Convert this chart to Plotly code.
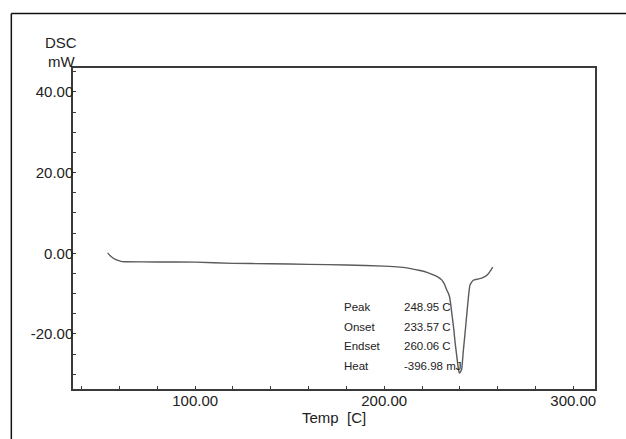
import plotly.graph_objects as go

# ---- data ----
temp_c = [53.7, 55.5, 57.8, 60.0, 61.3, 63.0, 80.0, 100.0, 120.0, 140.0, 160.0, 180.0,
          200.0, 208.4, 214.0, 219.0, 223.0, 226.0, 228.5, 230.4, 231.8, 233.0, 234.0,
          234.7, 235.9, 236.8, 237.5, 238.3, 239.1, 239.7, 240.3, 241.0, 241.8, 242.7,
          243.6, 244.5, 245.4, 247.1, 249.5, 251.6, 253.2, 254.6, 256.0, 257.4]
dsc_mw = [0.1, -0.8, -1.5, -1.9, -2.07, -2.1, -2.15, -2.2, -2.5, -2.6, -2.75, -2.9,
          -3.2, -3.45, -3.8, -4.28, -4.8, -5.35, -5.9, -6.6, -7.6, -9.0, -10.0,
          -11.1, -15.4, -18.8, -22.1, -25.2, -28.2, -29.7, -29.4, -28.7, -24.5, -20.1,
          -15.6, -11.1, -7.8, -6.7, -6.4, -6.15, -5.8, -5.35, -4.5, -3.45]

x_ticks = [100, 200, 300]
x_tick_labels = ["100.00", "200.00", "300.00"]
y_ticks = [-20, 0, 20, 40]
y_tick_labels = ["-20.00", "0.00", "20.00", "40.00"]

result_names = ["Peak", "Onset", "Endset", "Heat"]
result_values = ["248.95 C", "233.57 C", "260.06 C", "-396.98 mJ"]

# ---- layout geometry ----
W, H = 626, 439
L, R, T, B = 72.7, 31.0, 67.7, 49.7
PW, PH = W - L - R, H - T - B


def px_x(px):
    return (px - L) / PW


def px_y(py):
    return (H - B - py) / PH


FONT = "Liberation Sans, Arial, sans-serif"
TXT = "#222222"

fig = go.Figure()
fig.add_trace(go.Scatter(x=temp_c, y=dsc_mw, mode="lines",
                         line=dict(color="#5a5a5a", width=1.4, shape="spline", smoothing=0.4),
                         hoverinfo="skip", showlegend=False))

axis_common = dict(showgrid=False, zeroline=False, showline=True, mirror=True,
                   linecolor="#3a3a3a", linewidth=1.5, ticks="inside", ticklen=3,
                   tickcolor="#3a3a3a", tickwidth=1,
                   tickfont=dict(family=FONT, size=15, color=TXT))

fig.update_layout(
    width=W, height=H,
    margin=dict(l=L, r=R, t=T, b=B, pad=0),
    paper_bgcolor="white", plot_bgcolor="white",
    xaxis=dict(range=[35.4, 311.5], tickvals=x_ticks, ticktext=x_tick_labels,
               ticklabelstandoff=-3,
               minor=dict(dtick=20, tick0=0, ticks="inside", ticklen=3, tickcolor="#3a3a3a"),
               **axis_common),
    yaxis=dict(range=[-33.66, 45.94], tickvals=y_ticks, ticktext=y_tick_labels,
               ticklabelstandoff=-5,
               minor=dict(dtick=5, tick0=0, ticks="inside", ticklen=3, tickcolor="#3a3a3a"),
               **axis_common),
    showlegend=False,
)

annotations = []
# axis captions
annotations.append(dict(text="DSC", x=px_x(61), y=px_y(42.5), xref="paper", yref="paper",
                        showarrow=False, xanchor="center", yanchor="middle",
                        font=dict(family=FONT, size=15, color=TXT)))
annotations.append(dict(text="mW", x=px_x(61), y=px_y(61), xref="paper", yref="paper",
                        showarrow=False, xanchor="center", yanchor="middle",
                        font=dict(family=FONT, size=15, color=TXT)))
annotations.append(dict(text="Temp  [C]", x=0.5, y=px_y(418), xref="paper", yref="paper",
                        showarrow=False, xanchor="center", yanchor="middle",
                        font=dict(family=FONT, size=15, color=TXT)))
# results table
row_y = [307.3, 327.3, 346.7, 366.0]
for name, val, ry in zip(result_names, result_values, row_y):
    annotations.append(dict(text=name, x=px_x(341.5), y=px_y(ry), xref="paper", yref="paper",
                            showarrow=False, xanchor="left", yanchor="middle",
                            font=dict(family=FONT, size=11.5, color=TXT)))
    annotations.append(dict(text=val, x=px_x(402), y=px_y(ry), xref="paper", yref="paper",
                            showarrow=False, xanchor="left", yanchor="middle",
                            font=dict(family=FONT, size=11.5, color=TXT)))
fig.update_layout(annotations=annotations)

# outer frame (left and top edges visible)
fig.add_shape(type="line", xref="paper", yref="paper",
              x0=px_x(11), y0=px_y(13), x1=px_x(11), y1=px_y(445),
              line=dict(color="#111111", width=1.5))
fig.add_shape(type="line", xref="paper", yref="paper",
              x0=px_x(11), y0=px_y(13), x1=px_x(632), y1=px_y(13),
              line=dict(color="#111111", width=1.5))

fig.write_html("out.html")
